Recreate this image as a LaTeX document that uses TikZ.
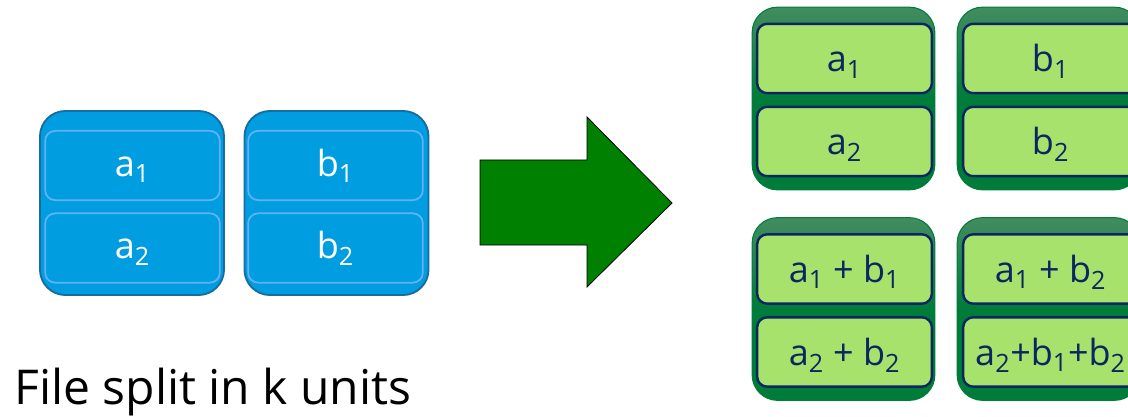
\documentclass[tikz,border=0pt]{standalone}
\usepackage{fontspec}
\setmainfont{Open Sans}
\definecolor{unitblue}{RGB}{0,158,224}
\definecolor{unitedge}{RGB}{24,108,158}
\definecolor{celledge}{RGB}{100,176,248}
\definecolor{codetop}{RGB}{66,140,96}
\definecolor{codebase}{RGB}{0,124,58}
\definecolor{codecell}{RGB}{166,226,108}
\definecolor{codenavy}{RGB}{12,38,96}
\definecolor{arrowgreen}{RGB}{0,128,0}

\begin{document}
\begin{tikzpicture}[x=0.75pt,y=-0.75pt,
	unitcase/.style={draw=unitedge, line width=1.4pt, fill=unitblue, rounded corners=19pt,
		minimum width=138pt, minimum height=138pt, inner sep=0pt},
	unitcell/.style={draw=celledge, line width=1.3pt, fill=unitblue, rounded corners=7.5pt,
		minimum width=131pt, minimum height=52pt, inner sep=0pt, text height=20pt, text depth=4.2pt,
		text=white, font=\fontsize{27}{30}\selectfont},
	codecase/.style={draw=codebase, line width=0.8pt, rounded corners=19pt,
		top color=codetop, bottom color=codebase, middle color=codebase,
		minimum width=137pt, minimum height=137pt, inner sep=0pt},
	codecell/.style={draw=codenavy, line width=1.8pt, fill=codecell, rounded corners=7.5pt,
		minimum width=131pt, minimum height=52pt, inner sep=0pt, text height=22pt, text depth=2pt,
		text=codenavy, font=\fontsize{27}{30}\selectfont}
	]
	\useasboundingbox (0,0) rectangle (1128,417);
	\clip (0,0) rectangle (1128,417);

	%file units--------------------------------------------------
	\node[unitcase] (ua) at (132,203) {}; %unit a
	\node[unitcell] (a1) at (132.5,165.5) {a\textsubscript{1}}; %a1
	\node[unitcell] (a2) at (132.5,248) {a\textsubscript{2}}; %a2
	\node[unitcase] (ub) at (336.5,203) {}; %unit b
	\node[unitcell] (b1) at (335.5,165.5) {b\textsubscript{1}}; %b1
	\node[unitcell] (b2) at (335.5,248) {b\textsubscript{2}}; %b2

	%caption
	\node[anchor=base west, inner sep=0pt, font=\fontsize{36}{40}\selectfont] (cap) at (14,404) {File split in k units};

	%arrow
	\filldraw[fill=arrowgreen, draw=black, line width=0.6pt]
		(480,160) -- (587,160) -- (587,117) -- (672,203) -- (587,287) -- (587,245) -- (480,245) -- cycle;

	%coded units-------------------------------------------------
	\node[codecase] (ca) at (843.5,98.5) {}; %top left
	\node[codecell] (ca1) at (844.5,58.5) {a\textsubscript{1}};
	\node[codecell] (ca2) at (844.5,141.5) {a\textsubscript{2}};
	\node[codecase] (cb) at (1048.5,98.5) {}; %top right
	\node[codecell] (cb1) at (1050.5,58.5) {b\textsubscript{1}};
	\node[codecell] (cb2) at (1050.5,141.5) {b\textsubscript{2}};
	\node[codecase] (cc) at (843.5,309) {}; %bottom left
	\node[codecell] (cc1) at (844.5,269) {a\textsubscript{1} + b\textsubscript{1}};
	\node[codecell] (cc2) at (844.5,352) {a\textsubscript{2} + b\textsubscript{2}};
	\node[codecase] (cd) at (1048.5,309) {}; %bottom right
	\node[codecell] (cd1) at (1050.5,269) {a\textsubscript{1} + b\textsubscript{2}};
	\node[codecell] (cd2) at (1050.5,352) {a\textsubscript{2}+b\textsubscript{1}+b\textsubscript{2}};
\end{tikzpicture}
\end{document}
